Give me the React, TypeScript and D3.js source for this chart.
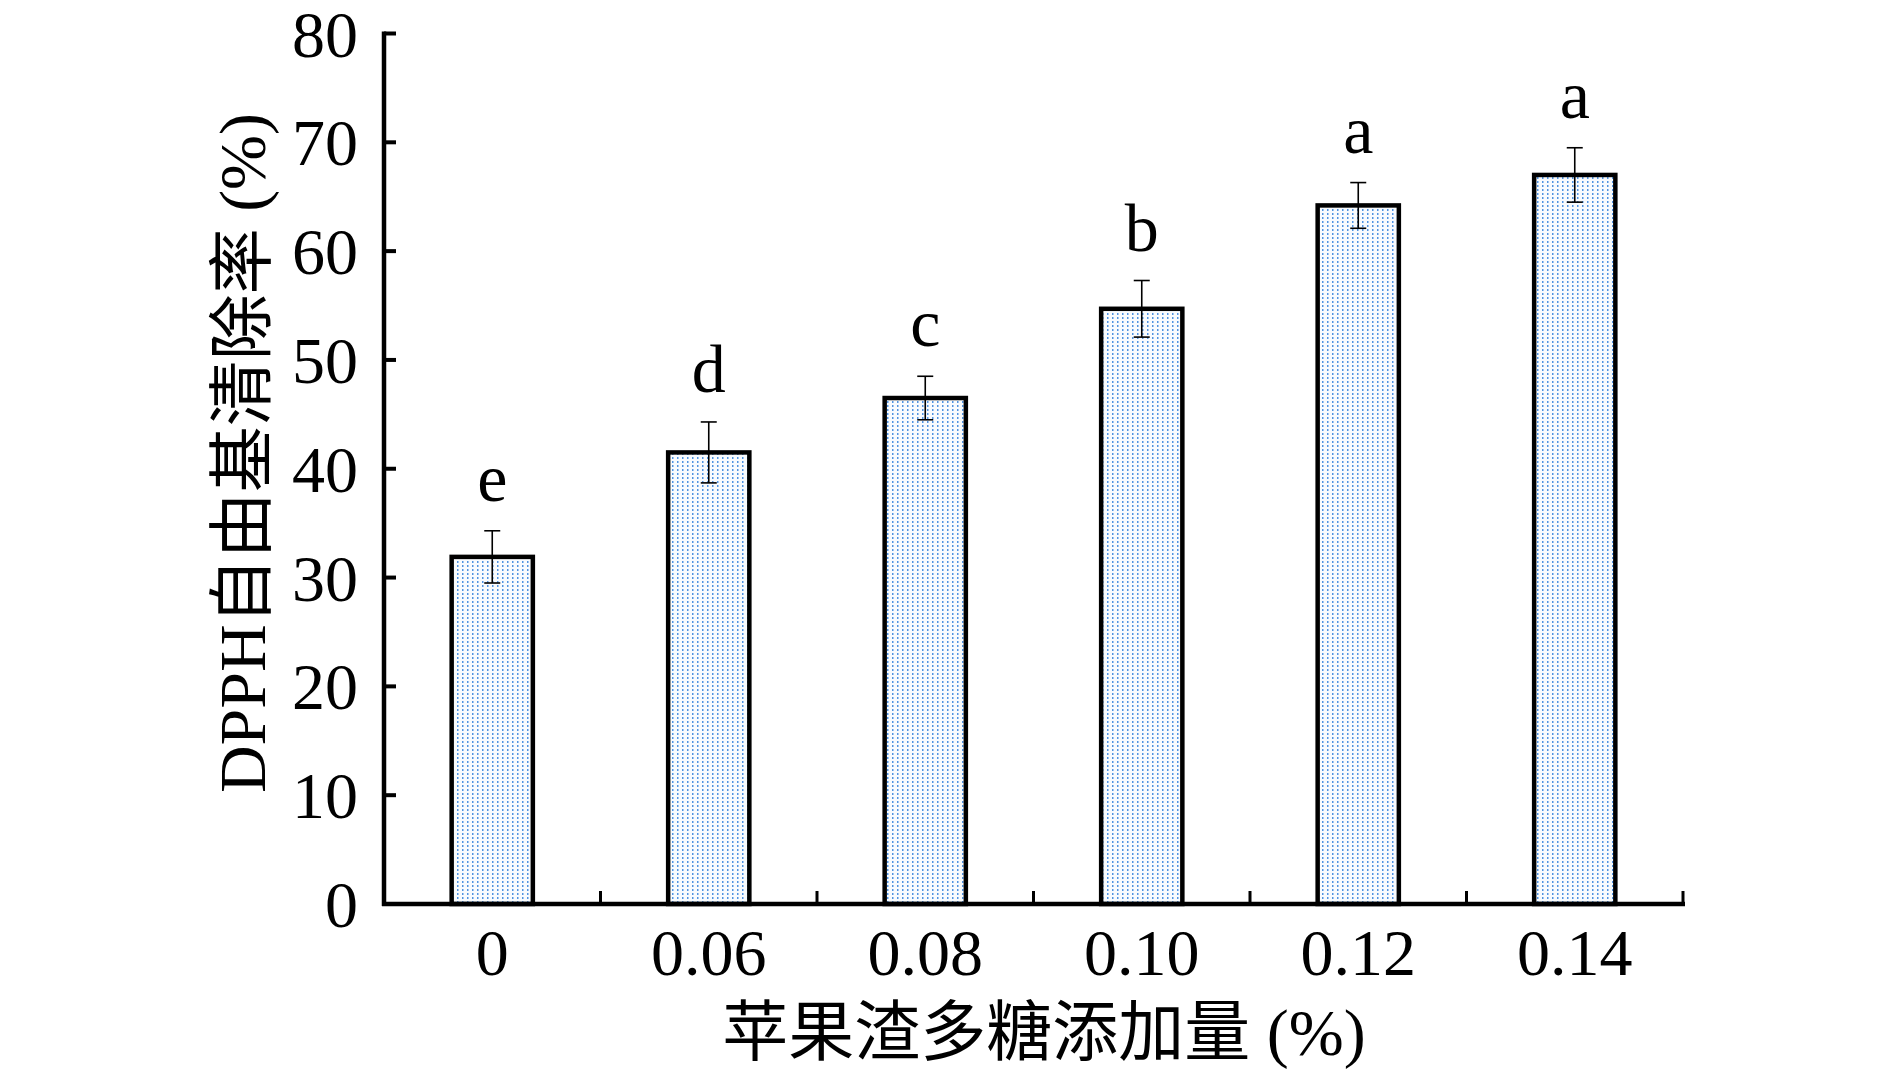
import React from "react";
import * as d3 from "d3";

const categories = ["0", "0.06", "0.08", "0.10", "0.12", "0.14"];
const means = [31.9, 41.5, 46.5, 54.7, 64.2, 67.0];
const errors = [2.4, 2.8, 2.0, 2.6, 2.1, 2.5];
const letters = ["e", "d", "c", "b", "a", "a"];
const yTicks = [0, 10, 20, 30, 40, 50, 60, 70, 80];

const W = 1890;
const H = 1080;
const M = { left: 384, right: 1683, top: 33.5, bottom: 904 };
const FONT = "'Liberation Serif', 'Times New Roman', 'Noto Sans CJK SC', serif";

export default function App() {
  const x = d3.scaleBand<string>().domain(categories).range([M.left, M.right]).padding(0);
  const y = d3.scaleLinear().domain([0, 80]).range([M.bottom, M.top]);
  const bw = x.bandwidth() * 0.375;
  const boundaries = categories.map((c) => (x(c) as number) + x.bandwidth());

  return (
    <svg
      width={W}
      height={H}
      style={{ position: "absolute", left: 0, top: 0, background: "#fff" }}
      fontFamily={FONT}
    >
      <defs>
        <pattern id="dots" width={5} height={4} patternUnits="userSpaceOnUse">
          <rect width={5} height={4} fill="#f8fbfe" />
          <rect x={2} y={1} width={1.5} height={2} fill="#3f87de" opacity={0.9} />
        </pattern>
      </defs>

      {/* bars */}
      {categories.map((c, i) => {
        const cx = (x(c) as number) + x.bandwidth() / 2;
        return (
          <rect
            key={"b" + c}
            x={cx - bw / 2}
            y={y(means[i])}
            width={bw}
            height={y(0) - y(means[i])}
            fill="url(#dots)"
            stroke="#000"
            strokeWidth={4.5}
          />
        );
      })}

      {/* error bars */}
      {categories.map((c, i) => {
        const cx = (x(c) as number) + x.bandwidth() / 2;
        const t = y(means[i] + errors[i]);
        const b = y(means[i] - errors[i]);
        return (
          <g key={"e" + c} stroke="#000" strokeWidth={1.6}>
            <line x1={cx} x2={cx} y1={t} y2={b} />
            <line x1={cx - 8} x2={cx + 8} y1={t} y2={t} />
            <line x1={cx - 8} x2={cx + 8} y1={b} y2={b} />
          </g>
        );
      })}

      {/* significance letters */}
      {categories.map((c, i) => {
        const cx = (x(c) as number) + x.bandwidth() / 2;
        return (
          <text
            key={"l" + c}
            x={cx}
            y={y(means[i] + errors[i]) - 30}
            textAnchor="middle"
            fontSize={68}
            fill="#000"
          >
            {letters[i]}
          </text>
        );
      })}

      {/* y axis */}
      <line x1={M.left} x2={M.left} y1={M.top - 2} y2={M.bottom + 2} stroke="#000" strokeWidth={4.5} />
      {yTicks.map((t) => (
        <g key={"yt" + t}>
          <line x1={M.left} x2={M.left + 12} y1={y(t)} y2={y(t)} stroke="#000" strokeWidth={4} />
          <text x={358} y={y(t)} dy="0.35em" textAnchor="end" fontSize={66} fill="#000">
            {t}
          </text>
        </g>
      ))}

      {/* x axis */}
      <line x1={M.left - 2} x2={M.right + 2} y1={M.bottom} y2={M.bottom} stroke="#000" strokeWidth={4.5} />
      {boundaries.map((bx, i) => (
        <line key={"xt" + i} x1={bx} x2={bx} y1={M.bottom} y2={M.bottom - 13} stroke="#000" strokeWidth={3} />
      ))}
      {categories.map((c) => (
        <text
          key={"xl" + c}
          x={(x(c) as number) + x.bandwidth() / 2}
          y={975}
          textAnchor="middle"
          fontSize={66}
          fill="#000"
        >
          {c}
        </text>
      ))}

      {/* axis titles */}
      <text x={1044} y={1055} textAnchor="middle" fontSize={66} fill="#000">
        苹果渣多糖添加量 (%)
      </text>
      <text
        transform={`translate(242, 453) rotate(-90)`}
        textAnchor="middle"
        dominantBaseline="central"
        fontSize={66}
        fill="#000"
      >
        DPPH自由基清除率 (%)
      </text>
    </svg>
  );
}
